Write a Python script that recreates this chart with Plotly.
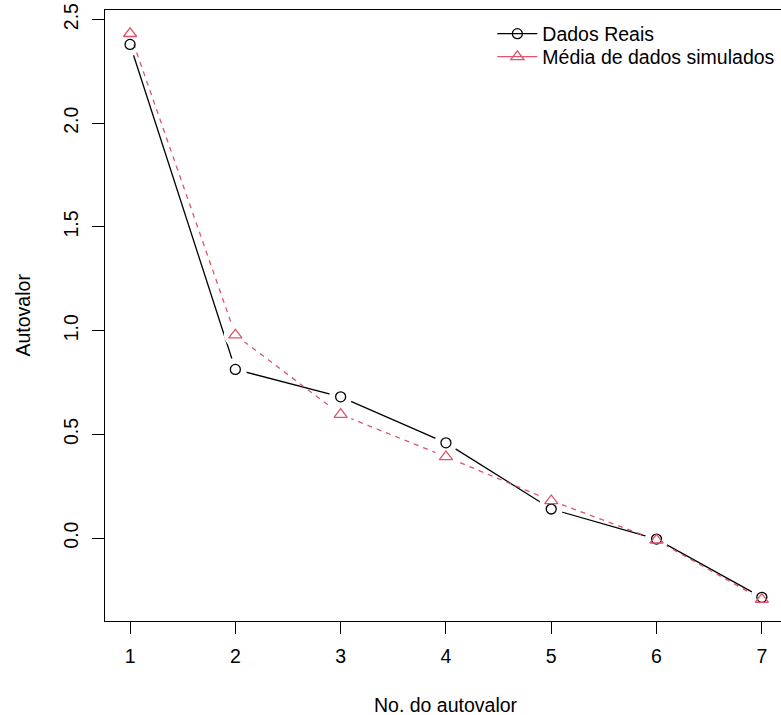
import plotly.graph_objects as go

# Data
components = [1, 2, 3, 4, 5, 6, 7]
real_eigen = [2.380, 0.813, 0.681, 0.459, 0.140, -0.005, -0.286]
sim_mean_eigen = [2.432, 0.979, 0.596, 0.392, 0.180, -0.010, -0.296]
x_ticks = [1, 2, 3, 4, 5, 6, 7]
y_ticks = [0.0, 0.5, 1.0, 1.5, 2.0, 2.5]
y_ticktext = ["0.0", "0.5", "1.0", "1.5", "2.0", "2.5"]

RED = "#DF536B"
FONT = "Liberation Sans, Arial, Helvetica, sans-serif"
FS = 19.5
GAP = 23  # diameter of R-style 'type=b' gap around points

fig = go.Figure()

# black series line + gaps
fig.add_trace(go.Scatter(x=components, y=real_eigen, mode="lines",
                         line=dict(color="black", width=1.3),
                         showlegend=False, hoverinfo="skip"))
fig.add_trace(go.Scatter(x=components, y=real_eigen, mode="markers",
                         marker=dict(symbol="circle", size=GAP, color="white",
                                     opacity=1, line=dict(width=0, color="white")),
                         showlegend=False, hoverinfo="skip"))
# red series line + gaps
fig.add_trace(go.Scatter(x=components, y=sim_mean_eigen, mode="lines",
                         line=dict(color=RED, width=1.3, dash="5px,5px"),
                         showlegend=False, hoverinfo="skip"))
fig.add_trace(go.Scatter(x=components, y=sim_mean_eigen, mode="markers",
                         marker=dict(symbol="circle", size=GAP, color="white",
                                     opacity=1, line=dict(width=0, color="white")),
                         showlegend=False, hoverinfo="skip"))
# markers on top
fig.add_trace(go.Scatter(x=components, y=real_eigen, mode="markers",
                         name="Dados Reais",
                         marker=dict(symbol="circle-open", size=10, color="black",
                                     line=dict(width=1.3, color="black")),
                         showlegend=False))
fig.add_trace(go.Scatter(x=components, y=sim_mean_eigen, mode="markers",
                         name="Média de dados simulados",
                         marker=dict(symbol="triangle-up-open", size=11.5, color=RED,
                                     line=dict(width=1.3, color=RED)),
                         showlegend=False))
# legend entries (style only, no data)
fig.add_trace(go.Scatter(x=[None], y=[None], mode="lines+markers",
                         name="Dados Reais", legend="legend",
                         line=dict(color="black", width=1.3),
                         marker=dict(symbol="circle-open", size=10, color="black",
                                     line=dict(width=1.3, color="black"))))
fig.add_trace(go.Scatter(x=[None], y=[None], mode="lines+markers",
                         name="Média de dados simulados", legend="legend2",
                         line=dict(color=RED, width=1.3),
                         marker=dict(symbol="triangle-up-open", size=11.5, color=RED,
                                     line=dict(width=1.3, color=RED))))

legend_common = dict(xanchor="left", yanchor="middle",
                     bgcolor="rgba(0,0,0,0)", borderwidth=0,
                     font=dict(size=FS), itemwidth=40)

fig.update_layout(
    width=781, height=715,
    margin=dict(l=105, r=0, t=10, b=94),
    paper_bgcolor="white", plot_bgcolor="white",
    font=dict(family=FONT, size=FS, color="black"),
    showlegend=True,
    legend=dict(x=0.573, y=(621 - 34) / 611, **legend_common),
    legend2=dict(x=0.573, y=(621 - 57) / 611, **legend_common),
    xaxis=dict(range=[0.762, 7.182], tickmode="array", tickvals=x_ticks,
               ticks="outside", ticklen=12, tickwidth=1, tickcolor="black",
               showline=True, linecolor="black", linewidth=1, mirror=True,
               showgrid=False, zeroline=False, ticklabelstandoff=6),
    yaxis=dict(range=[-0.400, 2.546], tickmode="array", tickvals=y_ticks,
               ticktext=y_ticktext, tickangle=-90,
               ticks="outside", ticklen=12, tickwidth=1, tickcolor="black",
               showline=True, linecolor="black", linewidth=1, mirror=False,
               showgrid=False, zeroline=False, ticklabelstandoff=6),
    annotations=[
        dict(text="No. do autovalor", xref="paper", yref="paper",
             x=(445.5 - 105) / 676, y=0, xanchor="center", yanchor="middle",
             yshift=-84, showarrow=False, font=dict(size=FS)),
        dict(text="Autovalor", xref="paper", yref="paper",
             x=0, y=0.5, xanchor="center", yanchor="middle", textangle=-90,
             xshift=-83, showarrow=False, font=dict(size=FS)),
    ],
)

fig.write_html("out.html", config={"displayModeBar": False},
               post_script="document.body.style.margin='0';document.body.style.overflow='hidden';")
